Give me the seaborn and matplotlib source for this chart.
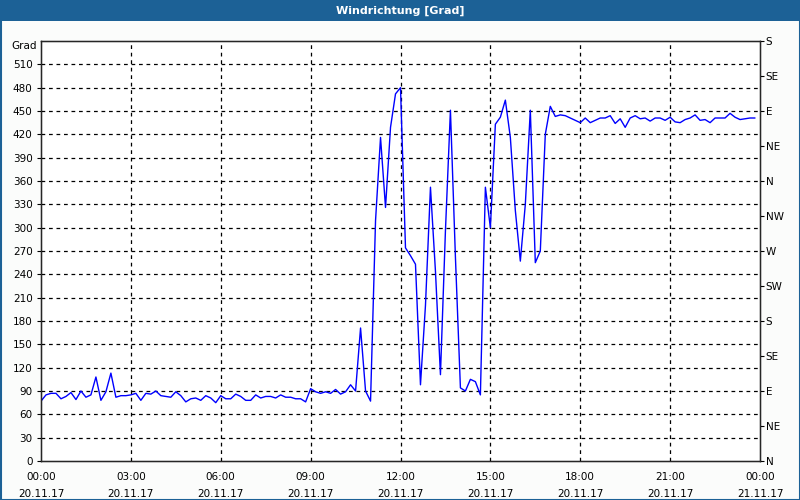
import numpy as np
import pandas as pd
import matplotlib
matplotlib.use("Agg")
import matplotlib.pyplot as plt
import matplotlib.dates as mdates
from matplotlib.patches import Rectangle
import seaborn as sns

# ── DATA ──────────────────────────────────────────────────────
start = "2017-11-20 00:00"
end = "2017-11-21 00:00"

# 10-minute values, 00:00 - 08:50
night = [77, 85, 87, 87, 80, 83, 88, 79, 90, 82, 85, 108, 78, 89, 113, 82, 84, 84,
         85, 87, 78, 87, 86, 90, 84, 83, 82, 89, 84, 76, 80, 81, 78, 84, 81, 75,
         84, 80, 80, 86, 83, 78, 78, 85, 81, 83, 83, 81, 85, 82, 82, 80, 80, 76]
# 09:00 - 12:00
morning = [93, 89, 87, 89, 87, 92, 86, 89, 98, 90, 171, 90, 77, 309, 416, 326, 429, 472, 480]
# 12:10 - 16:50
afternoon = [274, 264, 253, 98, 200, 352, 244, 111, 296, 451, 262, 94, 90, 105, 102,
             85, 352, 300, 433, 442, 464, 416, 322, 257, 330, 451, 255, 270, 420]
# 17:00 - 23:50
evening = [456, 443, 445, 444, 441, 438, 435, 441, 435, 438, 441, 441, 444, 434,
           440, 429, 441, 444, 440, 441, 437, 441, 441, 438, 442, 436, 435, 439,
           441, 445, 438, 439, 435, 441, 441, 441, 447, 442, 439, 440, 441, 441]

direction = night + morning + afternoon + evening
times = pd.date_range(start, periods=len(direction), freq="10min")
df = pd.DataFrame({"time": times, "grad": direction})

left_ticks = list(range(0, 511, 30))
right_ticks = list(range(0, 541, 45))
right_labels = ["N", "NE", "E", "SE", "S", "SW", "W", "NW", "N", "NE", "E", "SE", "S"]

# ── STYLE ─────────────────────────────────────────────────────
sns.set_style("white")
plt.rcParams["font.family"] = ["DejaVu Sans"]
plt.rcParams["font.size"] = 7.5
plt.rcParams["text.color"] = "black"
plt.rcParams["xtick.color"] = "black"
plt.rcParams["ytick.color"] = "black"
BLUE = "#1c6196"

fig = plt.figure(figsize=(8, 5), dpi=100)
fig.patch.set_facecolor("#fbfcfb")

# title bar + frame
fig.patches.append(Rectangle((0, 1 - 21 / 500), 1, 21 / 500, transform=fig.transFigure,
                             facecolor=BLUE, edgecolor="none", zorder=0))
fig.patches.append(Rectangle((0.5 / 800, 0.5 / 500), 1 - 1 / 800, 1 - 1 / 500,
                             transform=fig.transFigure, facecolor="none",
                             edgecolor=BLUE, linewidth=1.5, zorder=0))
fig.text(0.5, 1 - 10.5 / 500, "Windrichtung [Grad]", color="white", fontsize=8,
         fontweight="bold", ha="center", va="center")

ax = fig.add_axes([41 / 800, 39 / 500, 719 / 800, 420 / 500])
ax.set_facecolor("white")

sns.lineplot(data=df, x="time", y="grad", ax=ax, color="#0000ff", linewidth=1)

ax.set_xlim(pd.Timestamp(start), pd.Timestamp(end))
ax.set_ylim(0, 540)
ax.set_xlabel("")
ax.set_ylabel("")

# grid: dashed black
for v in left_ticks[1:]:
    ax.axhline(v, color="black", linestyle=(0, (3, 3)), linewidth=0.9, zorder=0.5)
for h in range(3, 24, 3):
    ax.axvline(pd.Timestamp(start) + pd.Timedelta(hours=h), color="black",
               linestyle=(0, (3, 3)), linewidth=0.9, zorder=0.5)

ax.set_yticks(left_ticks)
ax.tick_params(axis="y", direction="out", length=3, width=0.8, pad=3, labelsize=7.5)
ax.xaxis.set_major_locator(mdates.HourLocator(byhour=range(0, 24, 3)))
ax.xaxis.set_minor_locator(mdates.HourLocator())
ax.xaxis.set_major_formatter(mdates.DateFormatter("%H:%M\n%d.%m.%y"))
ax.tick_params(axis="x", which="both", direction="out", length=4, width=0.8, pad=4,
               labelsize=7.5)
for lbl in ax.get_xticklabels():
    lbl.set_linespacing(1.9)
for s in ax.spines.values():
    s.set_color("black")
    s.set_linewidth(1)

ax.text(-0.006, 1 - 5 / 420, "Grad", transform=ax.transAxes, ha="right",
        va="center", fontsize=7.5)

ax2 = ax.twinx()
ax2.set_ylim(0, 540)
ax2.set_yticks(right_ticks)
ax2.set_yticklabels(right_labels)
ax2.tick_params(axis="y", direction="out", length=3, width=0.8, pad=1, labelsize=7.5)
ax2.grid(False)

fig.savefig("out.png", dpi=100, facecolor=fig.get_facecolor())
